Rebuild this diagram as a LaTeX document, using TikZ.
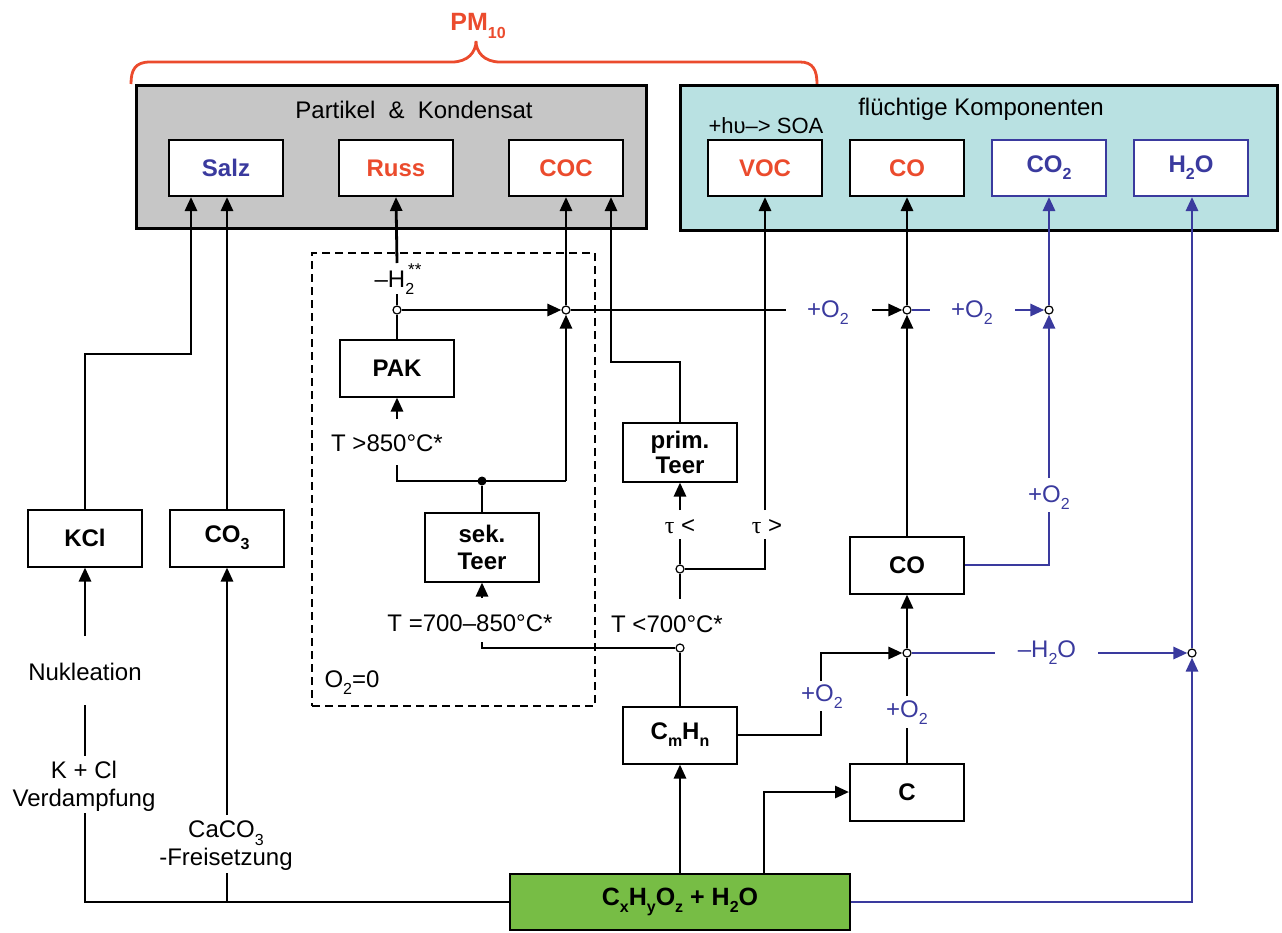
\documentclass[tikz,border=0pt]{standalone}
\usepackage{fontspec}
\setmainfont{Liberation Sans}
\newfontfamily\grk{Liberation Serif}
\usetikzlibrary{arrows.meta}
\definecolor{myblue}{HTML}{3A3A9E}
\definecolor{myred}{HTML}{EB4B2D}
\definecolor{mygray}{HTML}{C6C6C6}
\definecolor{mycyan}{HTML}{B9E1E2}
\definecolor{mygreen}{HTML}{77BD45}
\newcommand\lowsc[1]{\raisebox{-0.3em}{\fontsize{16}{16}\selectfont #1}}
\newcommand\highsc[1]{\raisebox{0.5em}{\fontsize{17}{17}\selectfont #1}}
\begin{document}
\begin{tikzpicture}[x=1pt,y=-1pt,
  every node/.style={font=\fontsize{24}{28}\selectfont},
  box/.style={draw=black, line width=2pt, fill=white, minimum width=114pt, minimum height=57pt, inner sep=0pt, align=center, font=\fontsize{24}{27}\selectfont\bfseries},
  lbl/.style={inner sep=0pt, align=center},
  blbl/.style={lbl, text=myblue},
  ln/.style={line width=2.8pt},
  conn/.style={ln, -{Triangle[length=14pt,width=12pt]}},
  bln/.style={ln, myblue},
  bconn/.style={conn, myblue},
  jn/.style={circle, draw, fill=white, line width=1.2pt, inner sep=0pt, minimum size=8pt},
  bigdot/.style={circle, fill=black, inner sep=0pt, minimum size=9pt}]
\useasboundingbox (0,0) rectangle (1282,932);

% brace and PM10
\draw[myred, line width=2.8pt] (131,84) .. controls (131,70) and (135,62) .. (150,62) -- (452,62) .. controls (468,62) and (476,52) .. (476,41) .. controls (476,52) and (484,62) .. (500,62) -- (800,62) .. controls (813,62) and (817,70) .. (817,84);
\node[lbl, text=myred, font=\fontsize{25}{28}\selectfont\bfseries] (pm) at (478,26) {PM\lowsc{10}};

% containers
\node[draw, line width=3pt, fill=mygray, minimum width=510pt, minimum height=143pt, inner sep=0pt] (pk) at (391,156.5) {};
\node[draw, line width=3pt, fill=mycyan, minimum width=597pt, minimum height=145pt, inner sep=0pt] (fk) at (979,157.5) {};
\node[lbl] (pkt) at (414,110) {Partikel\hspace{0.55em}\&\hspace{0.55em}Kondensat};
\node[lbl] (fkt) at (981,109) {flüchtige Komponenten};
\node[lbl, font=\fontsize{22}{26}\selectfont] (soa) at (766,126) {+hυ–> SOA};

% top boxes
\node[box, minimum height=56pt, text=myblue] (salz) at (226,168) {Salz};
\node[box, minimum height=56pt, text=myred] (russ) at (396,168) {Russ};
\node[box, minimum height=56pt, text=myred] (coc) at (566,168) {COC};
\node[box, minimum height=56pt, text=myred] (voc) at (765,168) {VOC};
\node[box, minimum height=56pt, text=myred] (cotop) at (907,168) {CO};
\node[box, minimum height=56pt, draw=myblue, text=myblue] (co2) at (1049,168) {CO\lowsc{2}};
\node[box, minimum height=56pt, draw=myblue, text=myblue] (h2o) at (1191,168) {H\lowsc{2}O};

% dashed region
\node[draw, line width=2.4pt, dash pattern=on 8pt off 5pt, minimum width=283pt, minimum height=453pt, inner sep=0pt] (dbox) at (453.5,479.5) {};
\node[lbl] (o2z) at (352,683) {O\lowsc{2}=0};

% other boxes
\node[box] (kcl) at (85,538) {KCl};
\node[box] (co3) at (227,538) {CO\lowsc{3}};
\node[box] (pak) at (397,368) {PAK};
\node[box, minimum height=69pt] (sek) at (482,547) {sek.\\Teer};
\node[box, minimum height=59pt, font=\fontsize{24}{25}\selectfont\bfseries] (prim) at (680,452) {prim.\\Teer};
\node[box] (comid) at (907,565) {CO};
\node[box] (cmhn) at (680,735) {C\lowsc{m}H\lowsc{n}};
\node[box] (cbox) at (907,792) {C};
\node[box, fill=mygreen, minimum width=340pt, minimum height=56pt, font=\fontsize{25}{28}\selectfont\bfseries] (green) at (680,902) {C\lowsc{x}H\lowsc{y}O\lowsc{z} + H\lowsc{2}O};

% labels
\node[lbl] (nuk) at (85,672) {Nukleation};
\node[lbl] (verd) at (84,786) {K + Cl\\Verdampfung};
\node[lbl] (caco) at (226,846) {CaCO\lowsc{3}\\-Freisetzung};
\node[lbl] (h2lbl) at (398,279) {–H\lowsc{2}\kern-0.25em\highsc{**}};
\node[lbl] (t850) at (387,443) {T >850°C*};
\node[lbl] (t700850) at (470,623) {T =700–850°C*};
\node[lbl] (t700) at (667,624) {T <700°C*};
\node[lbl] (tlt) at (680,527) {{\grk τ} <};
\node[lbl] (tgt) at (767,527) {{\grk τ} >};
\node[blbl] (o2a) at (828,313) {+O\lowsc{2}};
\node[blbl] (o2b) at (972,313) {+O\lowsc{2}};
\node[blbl] (o2c) at (1049,498) {+O\lowsc{2}};
\node[blbl] (o2d) at (822,697) {+O\lowsc{2}};
\node[blbl] (o2e) at (907,713) {+O\lowsc{2}};
\node[blbl] (mh2o) at (1047,653) {–H\lowsc{2}O};

% junctions
\node[jn] (j0) at (397,310) {};
\node[jn] (j1) at (566,310) {};
\node[jn] (j2) at (907,310) {};
\node[jn] (j3) at (1049,310) {};
\node[jn] (j4) at (907,653) {};
\node[jn] (j5) at (1192,653) {};
\node[jn] (j6) at (680,648) {};
\node[jn] (j7) at (680,569) {};
\node[bigdot] (d1) at (482,481) {};

% coordinates
\coordinate (k1) at (85,354); \coordinate (k2) at (191,354);
\coordinate (nukt) at (85,636);
\coordinate (v1) at (85,705); \coordinate (v2) at (85,756);
\coordinate (v3) at (85,813); \coordinate (bl) at (85,902);
\coordinate (c1) at (227,815); \coordinate (c2) at (227,873);
\coordinate (h2a) at (397,294); \coordinate (h2b) at (397,263);
\coordinate (t850a) at (397,419); \coordinate (t850b) at (397,465); \coordinate (t850c) at (397,481);
\coordinate (d2) at (566,481);
\coordinate (s1) at (482,598); \coordinate (s2) at (482,642); \coordinate (s3) at (482,648);
\coordinate (t7a) at (680,599);
\coordinate (tl1) at (680,539); \coordinate (tl2) at (680,510);
\coordinate (tg0) at (765,569); \coordinate (tg1) at (765,539); \coordinate (tg2) at (765,510);
\coordinate (p1) at (680,362); \coordinate (p2) at (611,362);
\coordinate (h1) at (786,310); \coordinate (h2) at (872,310);
\coordinate (h3) at (930,310); \coordinate (h4) at (1015,310);
\coordinate (b1) at (1049,565); \coordinate (b2) at (1049,512); \coordinate (b3) at (1049,478);
\coordinate (m1) at (821,735); \coordinate (m2) at (821,711); \coordinate (m3) at (821,681); \coordinate (m4) at (821,653);
\coordinate (cc1) at (907,728); \coordinate (cc2) at (907,696);
\coordinate (w1) at (995,653); \coordinate (w2) at (1098,653);
\coordinate (g1) at (1192,902);
\coordinate (gc) at (764,874); \coordinate (gc1) at (764,792);

% left connectors
\draw[conn] (kcl.north) -- (k1) -- (k2) -- (k2 |- salz.south);
\draw[conn] (co3.north) -- (co3.north |- salz.south);
\draw[conn] (nukt) -- (kcl.south);
\draw[ln] (v1) -- (v2);
\draw[ln] (v3) -- (bl) -- (green.west);
\draw[conn] (c1) -- (co3.south);
\draw[ln] (c2) -- (c2 |- green.west);

% PAK / Russ / COC
\draw[ln] (pak.north) -- (j0);
\draw[ln] (j0) -- (h2a);
\draw[conn] (h2b) -- (russ.south);
\draw[conn] (j0) -- (j1);
\draw[conn] (j1) -- (coc.south);
\draw[conn] (t850a) -- (pak.south);
\draw[ln] (t850b) -- (t850c) -- (d1.center) -- (d2);
\draw[conn] (d2) -- (j1);
\draw[ln] (sek.north) -- (d1);
\draw[conn] (s1) -- (sek.south);
\draw[ln] (s2) -- (s3) -- (j6);
\draw[ln] (cmhn.north) -- (j6);
\draw[ln] (j7) -- (t7a);
\draw[ln] (j7) -- (tl1);
\draw[conn] (tl2) -- (prim.south);
\draw[ln] (j7) -- (tg0) -- (tg1);
\draw[conn] (tg2) -- (voc.south);
\draw[conn] (prim.north) -- (p1) -- (p2) -- (p2 |- coc.south);

% oxidation chain
\draw[ln] (j1) -- (h1);
\draw[conn] (h2) -- (j2);
\draw[bln] (j2) -- (h3);
\draw[bconn] (h4) -- (j3);
\draw[bconn] (j3) -- (co2.south);
\draw[conn] (j2) -- (cotop.south);
\draw[conn] (comid.north) -- (j2);
\draw[bln] (comid.east) -- (b1) -- (b2);
\draw[bconn] (b3) -- (j3);
\draw[conn] (j4) -- (comid.south);
\draw[ln] (cmhn.east) -- (m1) -- (m2);
\draw[conn] (m3) -- (m4) -- (j4);
\draw[ln] (cbox.north) -- (cc1);
\draw[ln] (cc2) -- (j4);
\draw[bln] (j4) -- (w1);
\draw[bconn] (w2) -- (j5);
\draw[bconn] (j5) -- (j5 |- h2o.south);
\draw[bconn] (green.east) -- (g1) -- (j5);
\draw[conn] (green.north) -- (cmhn.south);
\draw[conn] (gc) -- (gc1) -- (cbox.west);
\end{tikzpicture}
\end{document}
